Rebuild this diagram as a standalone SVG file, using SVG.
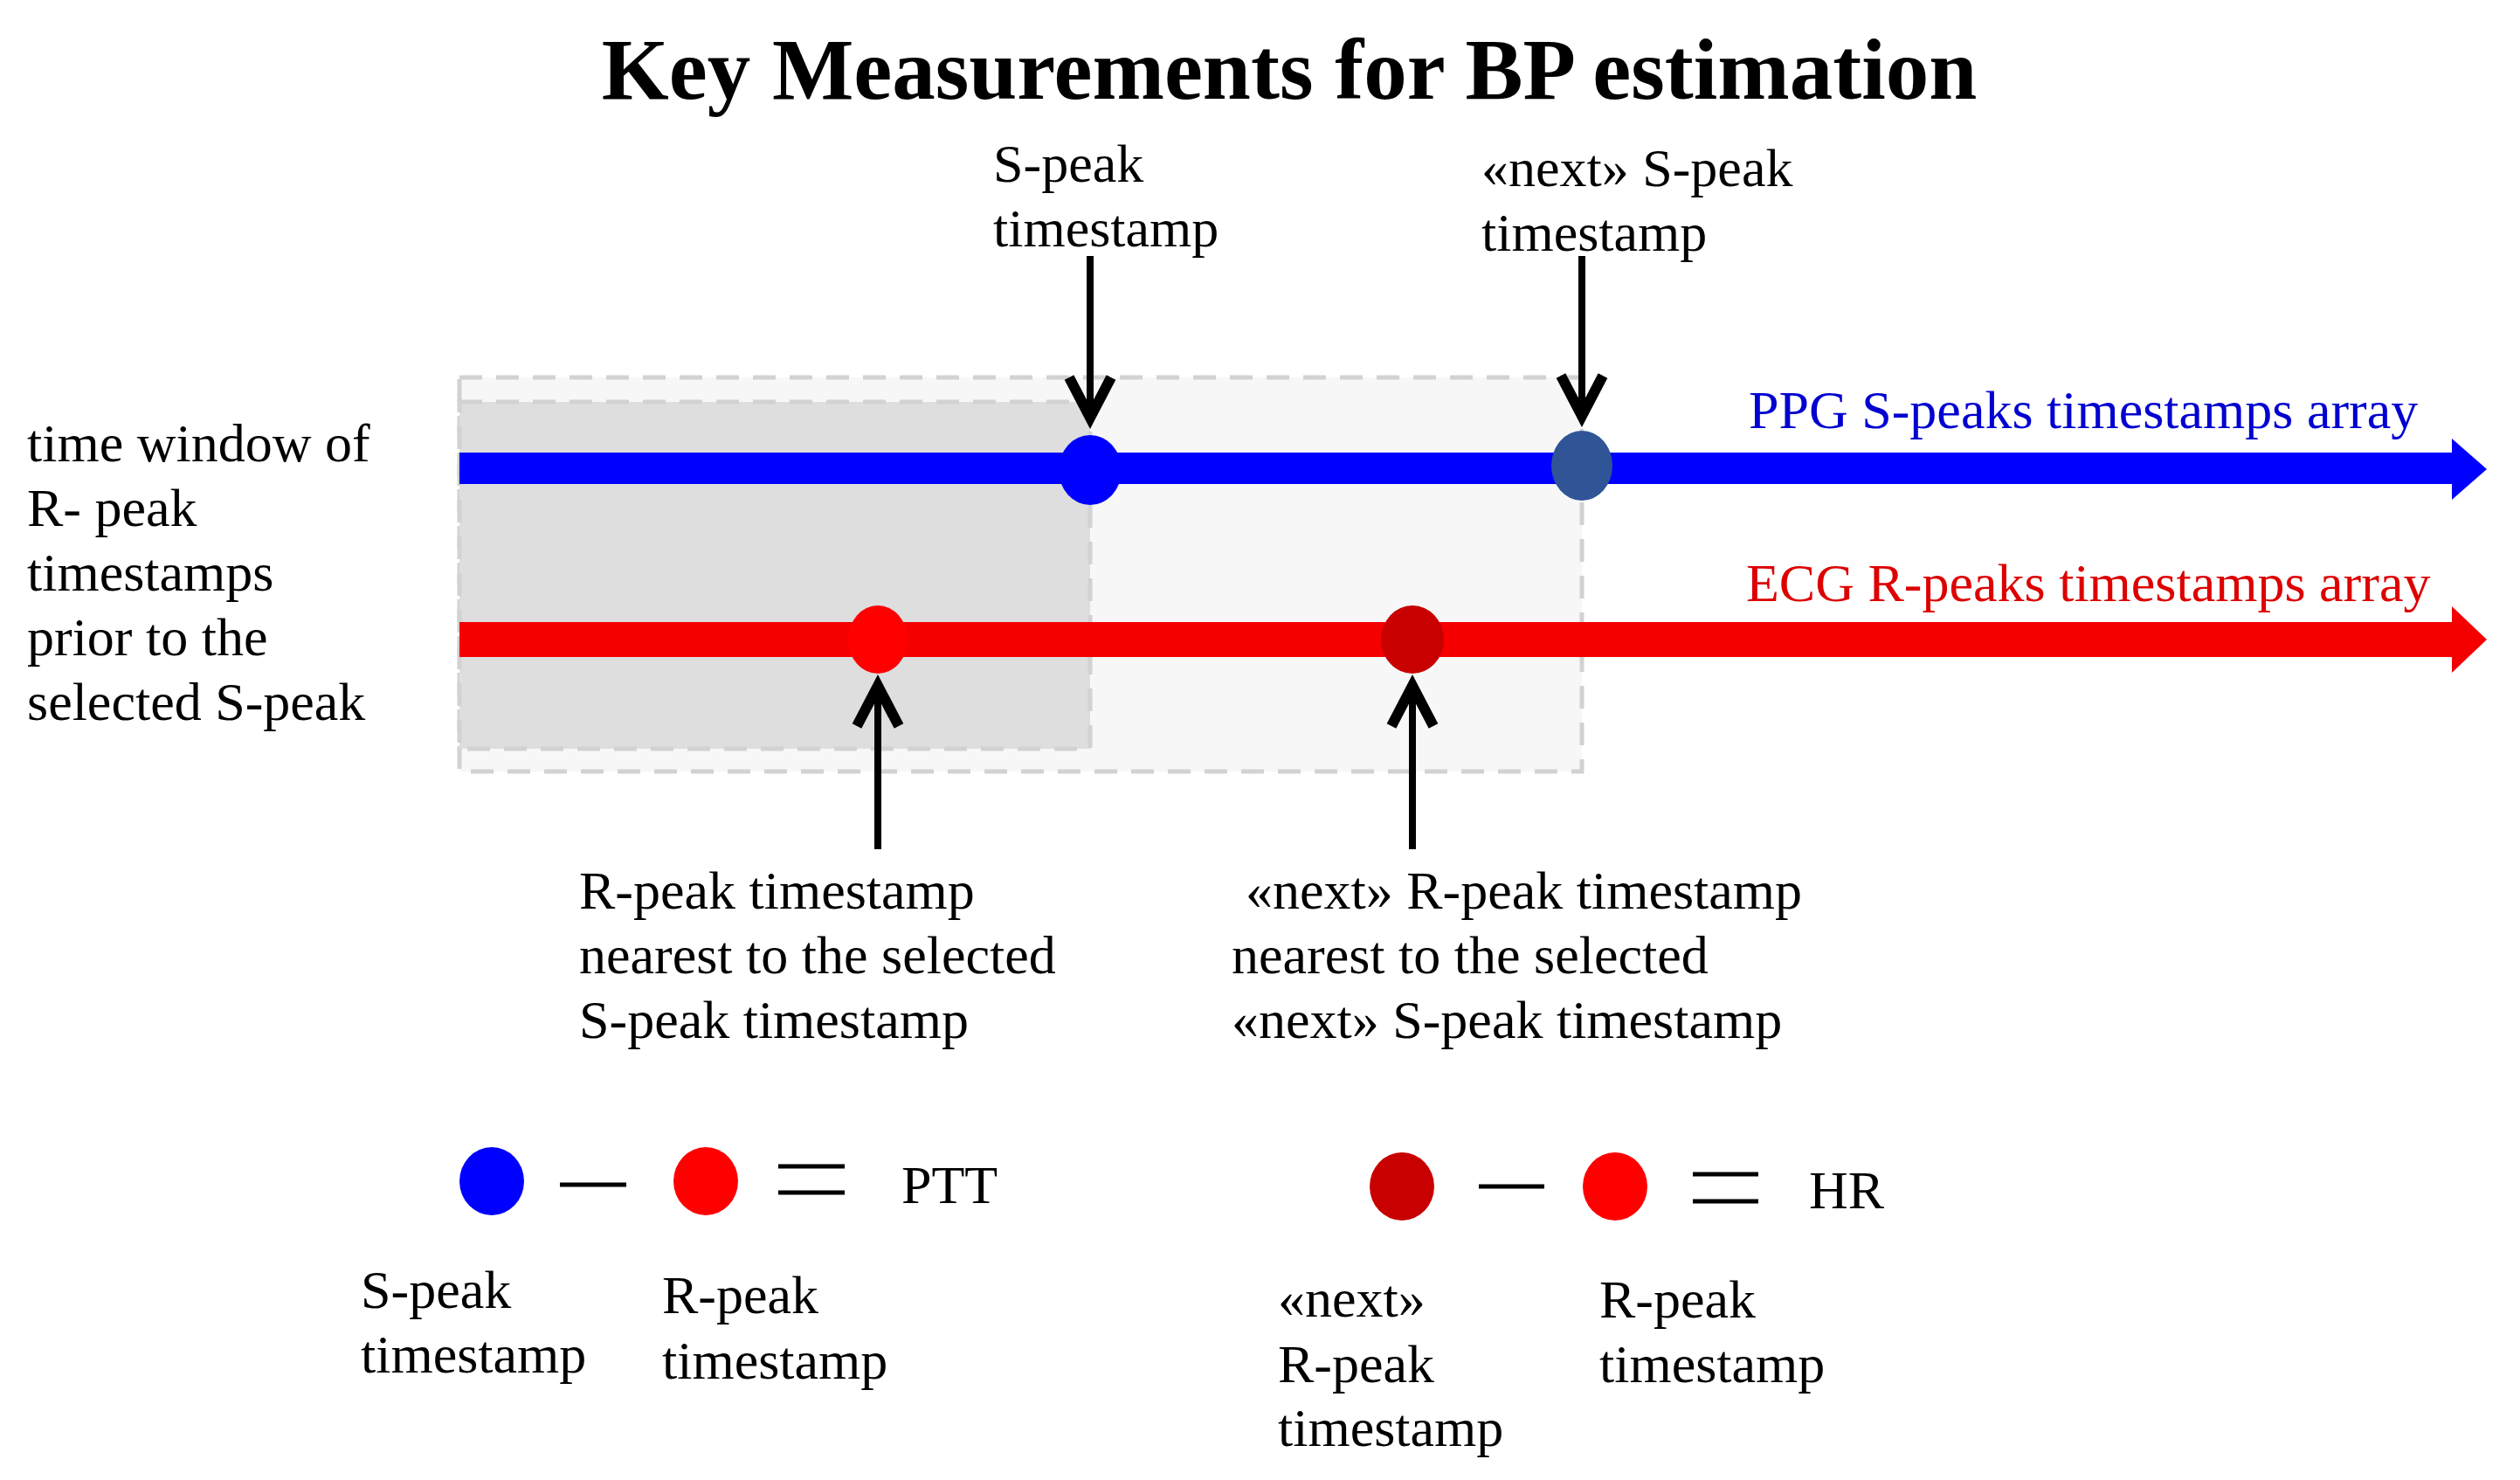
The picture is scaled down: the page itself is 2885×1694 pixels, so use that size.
<svg xmlns="http://www.w3.org/2000/svg" width="2885" height="1694" viewBox="0 0 2885 1694">
  <style>
    text { font-family: "Liberation Serif", "Times New Roman", serif; font-size: 62px; fill: #000; }
    .title { font-size: 99px; font-weight: bold; }
    .ppg { fill: #0000d0; }
    .ecg { fill: #dd0000; }
    .box { stroke: #d2d2d2; stroke-width: 5; stroke-dasharray: 26 16; }
    .conn { stroke: #000; stroke-width: 8; fill: none; marker-end: url(#chev); }
    .op { stroke: #000; stroke-width: 5; }
    .blue { fill: #0000ff; }
    .dblue { fill: #2f5597; }
    .red { fill: #ff0000; }
    .dred { fill: #c80000; }
  </style>
  <defs>
    <marker id="chev" markerUnits="userSpaceOnUse" markerWidth="80" markerHeight="80" viewBox="-60 -40 80 80" refX="0" refY="0" orient="auto" overflow="visible">
      <path d="M-48,-24 L-2,0 L-48,24" fill="none" stroke="#000" stroke-width="12" stroke-linejoin="miter"/>
    </marker>
  </defs>

  <g id="title">
    <text class="title" x="1476" y="113" text-anchor="middle">Key Measurements for BP estimation</text>
  </g>

  <g id="time-window">
    <rect class="box" x="526" y="432" width="1285" height="451" fill="#f7f7f7"/>
    <rect class="box" x="526" y="460" width="722" height="397" fill="#dedede"/>
  </g>

  <g id="window-label">
    <text x="31" y="528">time window of</text>
    <text x="31" y="602">R- peak</text>
    <text x="31" y="676">timestamps</text>
    <text x="31" y="750">prior to the</text>
    <text x="31" y="824">selected S-peak</text>
  </g>

  <g id="ppg-array">
    <rect x="526" y="518" width="2283" height="36" fill="#0000ff"/>
    <path d="M2807,502 L2847,537 L2807,572 Z" fill="#0000ff"/>
    <text class="ppg" x="2002" y="490">PPG S-peaks timestamps array</text>
  </g>

  <g id="ecg-array">
    <rect x="526" y="712" width="2283" height="40" fill="#f50000"/>
    <path d="M2807,694 L2847,732 L2807,770 Z" fill="#f50000"/>
    <text class="ecg" x="1999" y="688">ECG R-peaks timestamps array</text>
  </g>

  <g id="s-peak">
    <ellipse class="blue" cx="1248" cy="538" rx="36" ry="40"/>
    <text x="1137" y="208">S-peak</text>
    <text x="1137" y="282">timestamp</text>
  </g>

  <g id="next-s-peak">
    <ellipse class="dblue" cx="1811" cy="533" rx="35" ry="40"/>
    <text x="1696" y="213">«next» S-peak</text>
    <text x="1696" y="287">timestamp</text>
  </g>

  <g id="r-peak">
    <ellipse class="red" cx="1005" cy="732" rx="34" ry="39"/>
    <text x="663" y="1040">R-peak timestamp</text>
    <text x="663" y="1114">nearest to the selected</text>
    <text x="663" y="1188">S-peak timestamp</text>
  </g>

  <g id="next-r-peak">
    <ellipse class="dred" cx="1617" cy="732" rx="36" ry="39"/>
    <text x="1426" y="1040">«next» R-peak timestamp</text>
    <text x="1410" y="1114">nearest to the selected</text>
    <text x="1410" y="1188">«next» S-peak timestamp</text>
  </g>

  <g id="connectors">
    <line class="conn" x1="1248" y1="293" x2="1248" y2="480"/>
    <line class="conn" x1="1811" y1="293" x2="1811" y2="478"/>
    <line class="conn" x1="1005" y1="972" x2="1005" y2="783"/>
    <line class="conn" x1="1617" y1="972" x2="1617" y2="783"/>
  </g>

  <g id="ptt-formula">
    <ellipse class="blue" cx="563" cy="1352" rx="37" ry="39"/>
    <line class="op" x1="641" y1="1356" x2="717" y2="1356"/>
    <ellipse class="red" cx="808" cy="1352" rx="37" ry="39"/>
    <line class="op" x1="891" y1="1335" x2="967" y2="1335"/>
    <line class="op" x1="891" y1="1365" x2="967" y2="1365"/>
    <text x="1032" y="1377">PTT</text>
    <text x="413" y="1497">S-peak</text>
    <text x="413" y="1571">timestamp</text>
    <text x="758" y="1503">R-peak</text>
    <text x="758" y="1578">timestamp</text>
  </g>

  <g id="hr-formula">
    <ellipse class="dred" cx="1605" cy="1358" rx="37" ry="39"/>
    <line class="op" x1="1693" y1="1358" x2="1768" y2="1358"/>
    <ellipse class="red" cx="1849" cy="1358" rx="37" ry="39"/>
    <line class="op" x1="1938" y1="1344" x2="2013" y2="1344"/>
    <line class="op" x1="1938" y1="1375" x2="2013" y2="1375"/>
    <text x="2071" y="1383">HR</text>
    <text x="1463" y="1507">«next»</text>
    <text x="1463" y="1582">R-peak</text>
    <text x="1463" y="1655">timestamp</text>
    <text x="1831" y="1508">R-peak</text>
    <text x="1831" y="1582">timestamp</text>
  </g>
</svg>
